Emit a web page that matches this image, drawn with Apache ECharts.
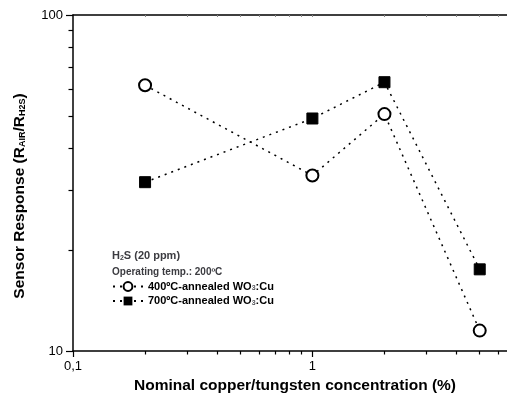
<!DOCTYPE html>
<html>
<head>
<meta charset="utf-8">
<script src="https://cdn.jsdelivr.net/npm/echarts@6/dist/echarts.min.js"></script>
<style>
  html, body { margin: 0; padding: 0; background: #fff; }
  #chart { width: 507px; height: 401px; }
</style>
</head>
<body>
<div id="chart"></div>
<script>
// Nominal Cu/W concentration (%) and sensor response for the two annealing temperatures
const concentrations = [0.2, 1, 2, 5];
const response400 = [61.8, 33.3, 50.7, 11.5];
const response700 = [31.8, 49.2, 63.1, 17.5];

// Axis ranges and tick positions (log scales)
const xRange = [0.1, 6.5];
const yRange = [10, 100];
const xMajorTicks = [0.1, 1];
const xMinorTicks = [0.2, 0.3, 0.4, 0.5, 0.6, 0.7, 0.8, 0.9, 2, 3, 4, 5, 6];
const yMajorTicks = [10, 100];
const yMinorTicks = [20, 30, 40, 50, 60, 70, 80, 90];

const FONT = '"Liberation Sans", Arial, sans-serif';
const subStyle = (size) => ({ fontFamily: FONT, fontWeight: 'bold', fontSize: size, padding: [Math.round(size * 0.6), 0, 0, 0] });

const chart = echarts.init(document.getElementById('chart'), null, { renderer: 'canvas' });

const dotted = { type: [2, 5], width: 1.5, color: '#000', cap: 'butt' };

function logAxis(range, extra) {
  return Object.assign({
    type: 'log',
    logBase: 10,
    min: range[0],
    max: range[1],
    splitLine: { show: false },
    axisLine: { show: false },
    axisTick: { show: false },
    axisLabel: { show: false }
  }, extra);
}

const option = {
  animation: false,
  backgroundColor: '#fff',
  grid: { left: 73, top: 15, width: 435, height: 336, containLabel: false },
  title: {
    left: 112,
    top: 248,
    padding: 0,
    text: '{b|H}{s|2}{b|S (20 ppm)}\n{o|Operating temp.: 200ºC}',
    textStyle: {
      fontFamily: FONT,
      lineHeight: 16,
      rich: {
        b: { fontFamily: FONT, fontWeight: 'bold', fontSize: 11, lineHeight: 16 },
        o: { fontFamily: FONT, fontWeight: 'bold', fontSize: 10, lineHeight: 17 },
        s: subStyle(7)
      }
    }
  },
  legend: {
    orient: 'vertical',
    left: 112,
    top: 281,
    padding: 0,
    itemWidth: 30,
    itemHeight: 11,
    itemGap: 3.5,
    data: ['400', '700'],
    formatter: (name) => '{b|' + name + 'ºC-annealed WO}{s|3}{b|:Cu}',
    textStyle: {
      fontFamily: FONT,
      rich: {
        b: { fontFamily: FONT, fontWeight: 'bold', fontSize: 11, color: '#000' },
        s: subStyle(7)
      }
    }
  },
  xAxis: [
    logAxis(xRange, {
      position: 'bottom',
      name: 'Nominal copper/tungsten concentration (%)',
      nameLocation: 'middle',
      nameGap: 23,
      nameTextStyle: { fontFamily: FONT, fontWeight: 'bold', fontSize: 15.5, color: '#000', padding: [0, 0, 0, 10] },
      axisLine: { show: true, lineStyle: { color: '#000', width: 1.5 } },
      axisTick: { show: true, length: 6, customValues: xMajorTicks, lineStyle: { color: '#000', width: 1.2 } },
      axisLabel: {
        show: true, margin: 9, customValues: xMajorTicks,
        fontFamily: FONT, fontSize: 13, color: '#000',
        formatter: (v) => (v < 0.5 ? '0,1' : String(Math.round(v)))
      }
    }),
    logAxis(xRange, {
      position: 'bottom',
      axisTick: { show: true, length: 3.5, customValues: xMinorTicks, lineStyle: { color: '#000', width: 1.2 } }
    }),
    logAxis(xRange, {
      position: 'top',
      axisLine: { show: true, lineStyle: { color: '#000', width: 1.5 } },
      axisTick: { show: true, inside: true, length: 2, customValues: xMinorTicks.concat([1]), lineStyle: { color: '#888', width: 1 } }
    })
  ],
  yAxis: [
    logAxis(yRange, {
      position: 'left',
      name: 'Sensor Response (R{s|AIR}/R{s|H2S})',
      nameLocation: 'middle',
      nameGap: 45,
      nameRotate: 90,
      nameTextStyle: {
        fontFamily: FONT, fontWeight: 'bold', fontSize: 15.5, color: '#000',
        padding: [0, 26, 0, 0],
        rich: { s: subStyle(9) }
      },
      axisLine: { show: true, lineStyle: { color: '#000', width: 1.5 } },
      axisTick: { show: true, length: 7, customValues: yMajorTicks, lineStyle: { color: '#000', width: 1.2 } },
      axisLabel: {
        show: true, margin: 10, customValues: yMajorTicks,
        fontFamily: FONT, fontSize: 13, color: '#000',
        formatter: (v) => String(Math.round(v))
      }
    }),
    logAxis(yRange, {
      position: 'left',
      axisTick: { show: true, length: 4.5, customValues: yMinorTicks, lineStyle: { color: '#000', width: 1.2 } }
    })
  ],
  series: [
    {
      name: '400',
      type: 'line',
      xAxisIndex: 0,
      yAxisIndex: 0,
      data: concentrations.map((c, i) => [c, response400[i]]),
      symbol: 'emptyCircle',
      symbolSize: 12,
      itemStyle: { color: '#000', borderColor: '#000', borderWidth: 1.3 },
      lineStyle: dotted,
      z: 3
    },
    {
      name: '700',
      type: 'line',
      xAxisIndex: 0,
      yAxisIndex: 0,
      data: concentrations.map((c, i) => [c, response700[i]]),
      symbol: 'rect',
      symbolSize: 11,
      itemStyle: { color: '#000', borderColor: '#000' },
      lineStyle: dotted,
      z: 4
    }
  ]
};

chart.setOption(option);
</script>
</body>
</html>
